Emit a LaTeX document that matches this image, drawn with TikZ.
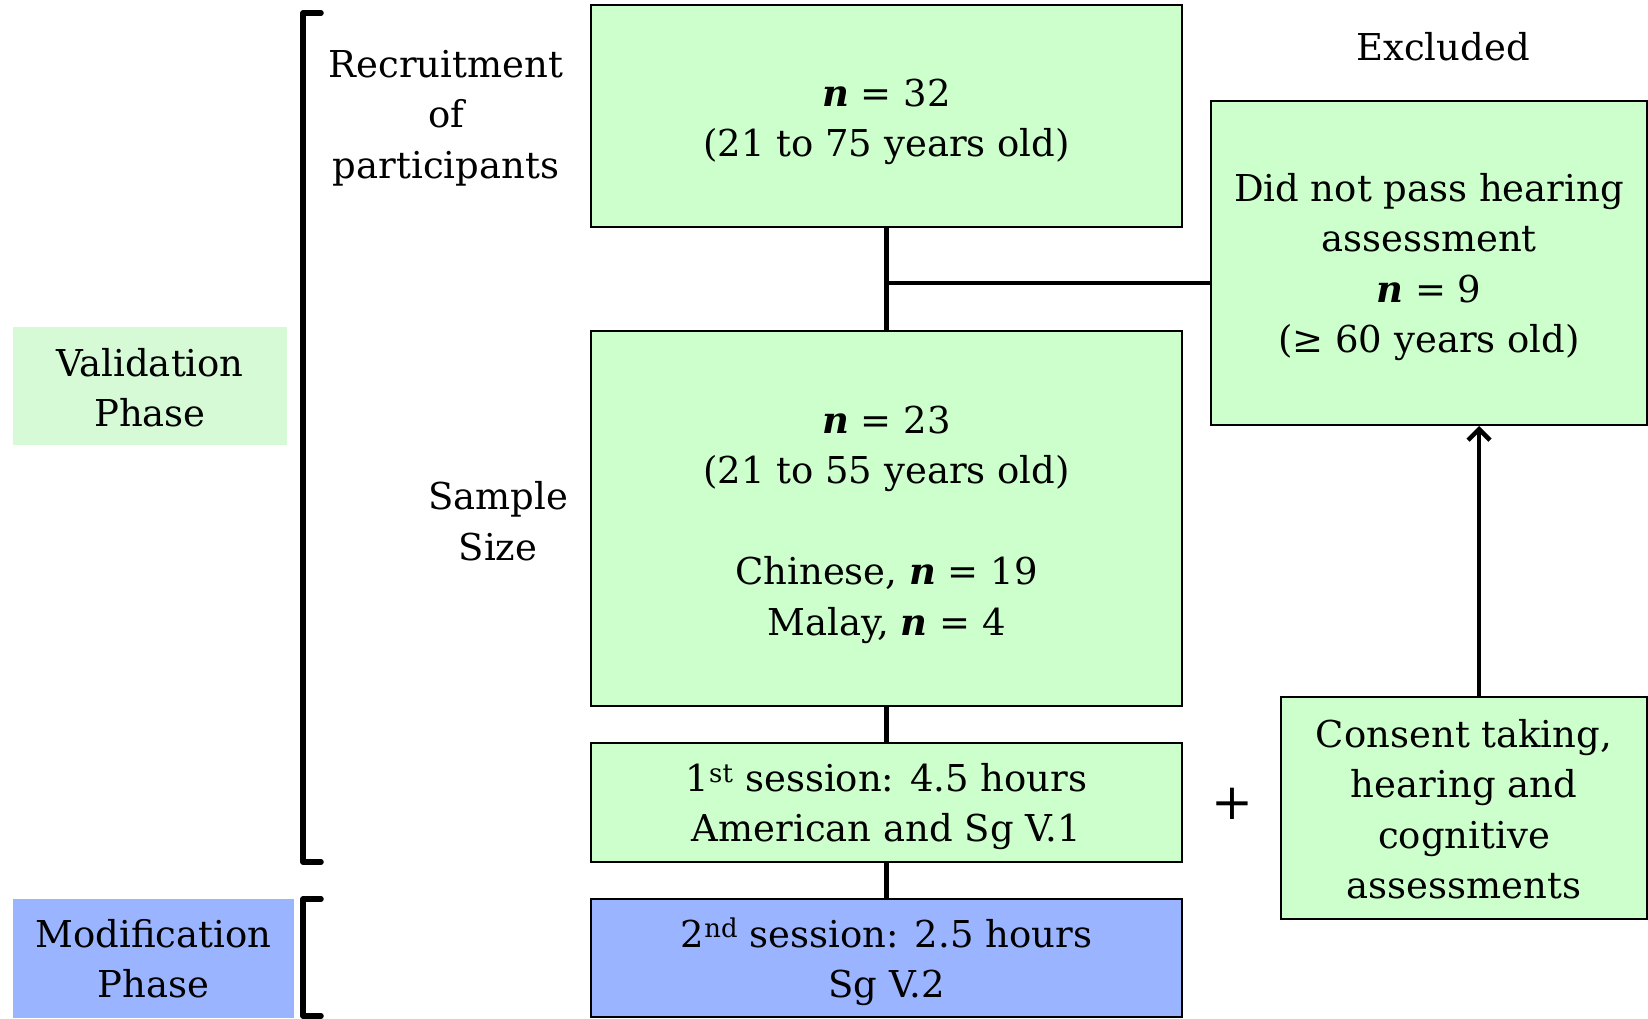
\documentclass[tikz,border=0pt]{standalone}
\usepackage{fontspec}
\setmainfont{DejaVu Serif}
\usetikzlibrary{arrows.meta}
\definecolor{boxgreen}{HTML}{CCFFCC}
\definecolor{phasegreen}{HTML}{D6FAD6}
\definecolor{boxblue}{HTML}{9BB4FF}
\begin{document}
\begin{tikzpicture}[x=1pt,y=-1pt,
  every node/.style={font=\fontsize{37}{50.5}\selectfont, align=center, inner sep=0pt},
  gbox/.style={draw=black, line width=2pt, fill=boxgreen},
  bbox/.style={draw=black, line width=2pt, fill=boxblue},
  conn/.style={line width=4.5pt},
  brk/.style={line width=5.5pt, line join=round, line cap=round}]
\useasboundingbox (0,0) rectangle (1648,1018);
\newcommand{\nit}{\textbf{\textit{n}}}
% boxes
\node[gbox, minimum width=591, minimum height=222] (top) at (886.5,116) {};
\node[gbox, minimum width=591, minimum height=375] (sample) at (886.5,518.5) {};
\node[gbox, minimum width=591, minimum height=119] (s1) at (886.5,802.5) {};
\node[bbox, minimum width=591, minimum height=118] (s2) at (886.5,958) {};
\node[gbox, minimum width=436, minimum height=324] (excl) at (1429,263) {};
\node[gbox, minimum width=366, minimum height=222] (consent) at (1464,808) {};
\node[fill=phasegreen, minimum width=274, minimum height=118] (valid) at (150,386) {};
\node[fill=boxblue, minimum width=281, minimum height=119] (modif) at (153.5,958.5) {};
% box texts
\node (toptxt) at ([yshift=-6pt]top.center) {\nit{} = 32\\(21 to 75 years old)};
\node (sampletxt) at ([yshift=-6pt]sample.center) {\nit{} = 23\\(21 to 55 years old)\\[50.5pt]Chinese, \nit{} = 19\\Malay, \nit{} = 4};
\node (s1txt) at ([yshift=-4pt]s1.center) {1\textsuperscript{st} session: 4.5 hours\\American and Sg V.1};
\node (s2txt) at ([yshift=-4pt]s2.center) {2\textsuperscript{nd} session: 2.5 hours\\Sg V.2};
\node (excltxt) at ([yshift=-4pt]excl.center) {Did not pass hearing\\assessment\\\nit{} = 9\\(≥ 60 years old)};
\node (consenttxt) at ([yshift=-1pt]consent.center) {Consent taking,\\hearing and\\cognitive\\assessments};
\node (validtxt) at ([yshift=-1.5pt]valid.center) {Validation\\Phase};
\node (modiftxt) at (modif.center) {Modification\\Phase};
% labels
\node (exlabel) at (1443,47) {Excluded};
\node (recruit) at (446,118) {Recruitment\\of\\participants};
\node (ssize) at (498,521) {Sample\\Size};
\node[font=\fontsize{50}{50}\selectfont] (plus) at (1232,804) {+};
% connectors
\draw[conn] (top.south) -- (sample.north);
\coordinate (j) at (886.5,283);
\draw[conn] (j) -- (j -| excl.west);
\draw[conn] (sample.south) -- (s1.north);
\draw[conn] (s1.south) -- (s2.north);
\coordinate (ax) at (1479,0);
\draw[conn, -{Straight Barb[length=11pt,width=22pt]}] (consent.north -| ax) -- (excl.south -| ax);
% brackets
\draw[brk] (321,13) -- (303,13) -- (303,862) -- (321,862);
\draw[brk] (321,899) -- (303,899) -- (303,1016) -- (321,1016);
\end{tikzpicture}
\end{document}
